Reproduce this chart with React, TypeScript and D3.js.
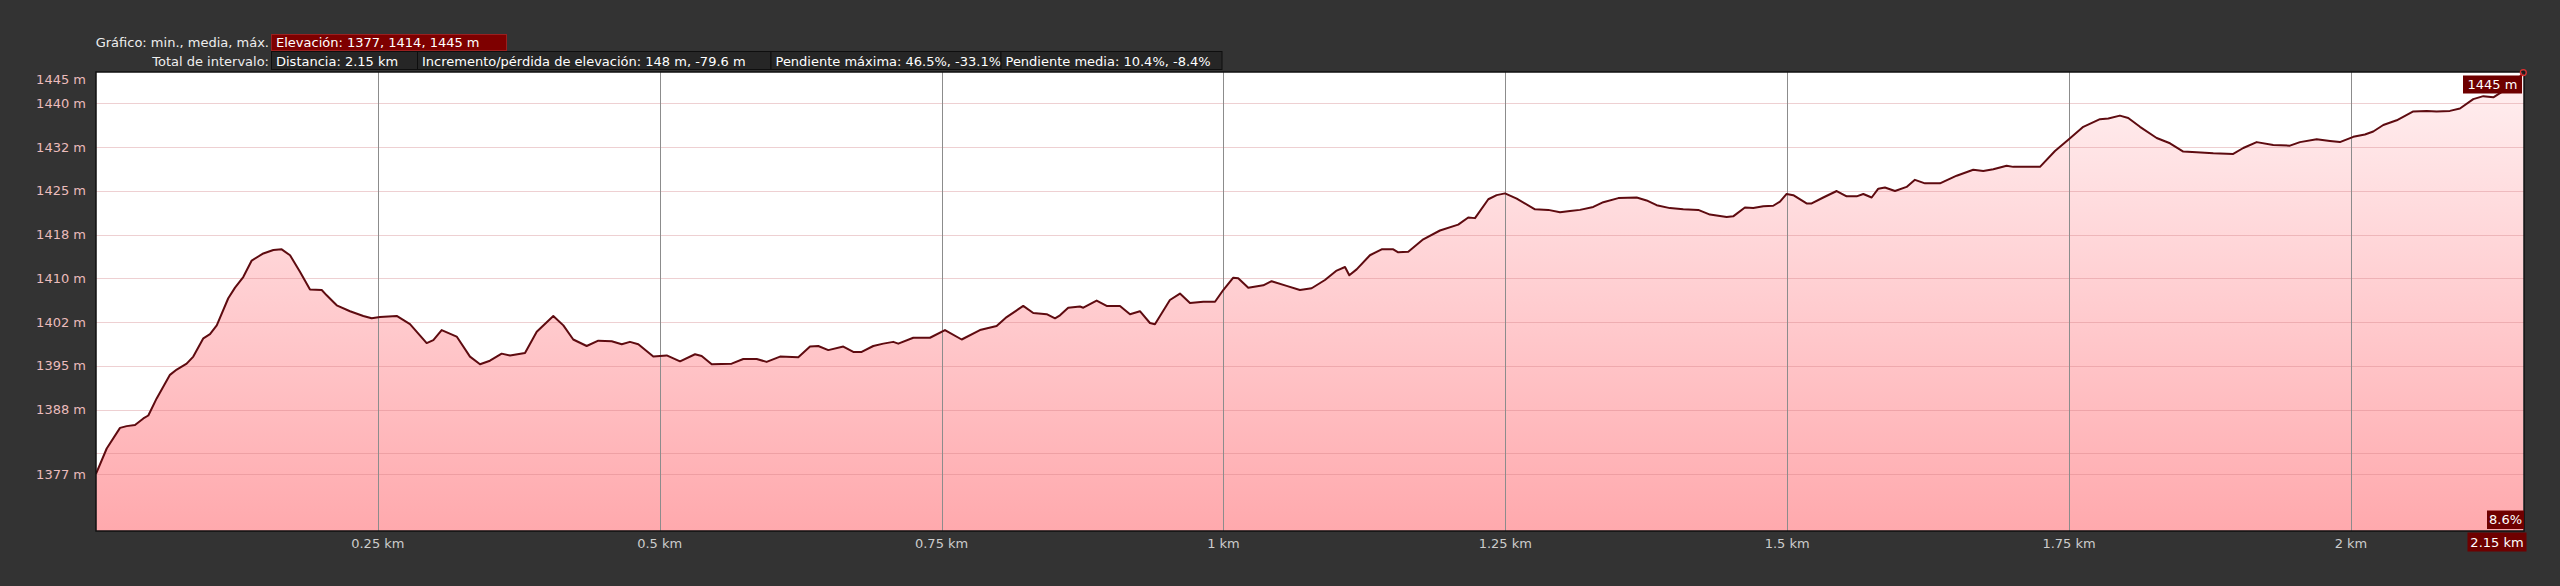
import React from "react";
import * as d3 from "d3";

// ---- Data ----
const distKm = [
  0.0, 0.0095, 0.0213, 0.0272, 0.0346, 0.042, 0.0464, 0.0538, 0.0656, 0.0716, 0.0804, 0.0863, 0.0952, 0.1011,
  0.1071, 0.1173, 0.1233, 0.1306, 0.1381, 0.1484, 0.1573, 0.1647, 0.1721, 0.1809, 0.1898, 0.2002, 0.2046,
  0.2135, 0.2253, 0.2371, 0.2445, 0.2519, 0.2667, 0.2785, 0.2933, 0.2992, 0.3066, 0.3199, 0.3317, 0.3406,
  0.3494, 0.3598, 0.3672, 0.3805, 0.3909, 0.4056, 0.4145, 0.4233, 0.4352, 0.4455, 0.4574, 0.4663, 0.4736,
  0.481, 0.4943, 0.5062, 0.518, 0.5313, 0.5372, 0.5461, 0.5638, 0.5741, 0.586, 0.5948, 0.6067, 0.6229,
  0.6333, 0.6406, 0.6495, 0.6628, 0.6717, 0.6791, 0.6894, 0.6983, 0.7071, 0.7116, 0.7249, 0.7397, 0.753,
  0.7678, 0.784, 0.7988, 0.8077, 0.8224, 0.8313, 0.8432, 0.8506, 0.855, 0.8623, 0.8727, 0.8757, 0.8875,
  0.8964, 0.9082, 0.9171, 0.9259, 0.9348, 0.9392, 0.9525, 0.9614, 0.9703, 0.9821, 0.9925, 0.9998, 1.0087,
  1.0131, 1.022, 1.0353, 1.0427, 1.056, 1.0678, 1.0782, 1.09, 1.1004, 1.1078, 1.1116, 1.1181, 1.1299,
  1.1403, 1.1506, 1.155, 1.1639, 1.1772, 1.192, 1.2082, 1.2171, 1.2231, 1.2349, 1.2423, 1.2497, 1.2601,
  1.2763, 1.2881, 1.2985, 1.3074, 1.3162, 1.328, 1.3369, 1.3502, 1.3665, 1.3753, 1.3842, 1.396, 1.4078,
  1.4211, 1.4315, 1.4463, 1.4521, 1.4625, 1.4699, 1.4788, 1.4876, 1.4936, 1.4995, 1.5054, 1.5172, 1.5217,
  1.532, 1.5439, 1.5527, 1.5616, 1.5675, 1.5749, 1.5808, 1.5867, 1.5956, 1.6059, 1.6133, 1.6222, 1.6355,
  1.6503, 1.665, 1.6739, 1.6828, 1.6946, 1.7005, 1.7242, 1.7375, 1.7493, 1.7626, 1.7774, 1.7848, 1.7951,
  1.8025, 1.8129, 1.8277, 1.8395, 1.8513, 1.8631, 1.8779, 1.8956, 1.9045, 1.9164, 1.9311, 1.9459, 1.9548,
  1.9696, 1.9814, 1.9902, 2.0021, 2.0124, 2.0198, 2.0287, 2.0406, 2.0553, 2.0672, 2.076, 2.0878, 2.0967,
  2.1085, 2.1174, 2.1263, 2.1322, 2.1455, 2.1529,
];
const elevM = [
  1377.1, 1381.4, 1384.9, 1385.2, 1385.4, 1386.5, 1387.0, 1389.9, 1393.9, 1394.8, 1395.8, 1397.0, 1400.1, 1400.8,
  1402.3, 1406.9, 1408.7, 1410.5, 1413.3, 1414.5, 1415.1, 1415.2, 1414.2, 1411.4, 1408.4, 1408.3, 1407.4,
  1405.7, 1404.7, 1403.9, 1403.5, 1403.7, 1403.9, 1402.5, 1399.3, 1399.8, 1401.5, 1400.4, 1397.0, 1395.7,
  1396.3, 1397.5, 1397.2, 1397.6, 1401.2, 1403.9, 1402.3, 1399.9, 1398.8, 1399.7, 1399.6, 1399.1, 1399.5,
  1399.1, 1397.0, 1397.2, 1396.2, 1397.4, 1397.1, 1395.7, 1395.8, 1396.6, 1396.6, 1396.1, 1397.0, 1396.9,
  1398.7, 1398.8, 1398.1, 1398.7, 1397.8, 1397.8, 1398.8, 1399.2, 1399.5, 1399.2, 1400.2, 1400.2, 1401.5,
  1399.9, 1401.5, 1402.2, 1403.7, 1405.6, 1404.4, 1404.2, 1403.5, 1404.0, 1405.3, 1405.5, 1405.3, 1406.5,
  1405.6, 1405.6, 1404.2, 1404.7, 1402.7, 1402.5, 1406.6, 1407.7, 1406.1, 1406.3, 1406.3, 1408.3, 1410.4,
  1410.3, 1408.7, 1409.1, 1409.8, 1409.0, 1408.3, 1408.6, 1410.0, 1411.6, 1412.2, 1410.8, 1411.8, 1414.2,
  1415.2, 1415.2, 1414.7, 1414.8, 1416.9, 1418.4, 1419.4, 1420.6, 1420.5, 1423.7, 1424.4, 1424.7, 1423.8,
  1422.0, 1421.9, 1421.5, 1421.7, 1421.9, 1422.4, 1423.2, 1423.9, 1424.0, 1423.5, 1422.7, 1422.2, 1422.0,
  1421.9, 1421.1, 1420.7, 1420.8, 1422.3, 1422.2, 1422.5, 1422.6, 1423.3, 1424.6, 1424.4, 1423.0, 1423.0,
  1424.0, 1425.1, 1424.2, 1424.2, 1424.6, 1424.0, 1425.5, 1425.7, 1425.1, 1425.8, 1427.0, 1426.4, 1426.4,
  1427.7, 1428.7, 1428.5, 1428.8, 1429.4, 1429.2, 1429.2, 1431.9, 1433.8, 1436.0, 1437.3, 1437.4, 1437.9,
  1437.5, 1436.0, 1434.1, 1433.2, 1431.8, 1431.7, 1431.5, 1431.4, 1432.4, 1433.4, 1432.9, 1432.8, 1433.4,
  1433.9, 1433.6, 1433.4, 1434.3, 1434.7, 1435.2, 1436.3, 1437.1, 1438.6, 1438.7, 1438.6, 1438.7, 1439.1,
  1440.7, 1441.2, 1441.0, 1441.7, 1443.5, 1445.2,
];

const xTicks = [0.25, 0.5, 0.75, 1, 1.25, 1.5, 1.75, 2];
const xTickLabels = ["0.25 km", "0.5 km", "0.75 km", "1 km", "1.25 km", "1.5 km", "1.75 km", "2 km"];
const yTicks = [1440, 1432.57, 1425.14, 1417.71, 1410.29, 1402.86, 1395.43, 1388, 1380.57];
const yTickLabels = ["1440 m", "1432 m", "1425 m", "1418 m", "1410 m", "1402 m", "1395 m", "1388 m", ""];
const yMinValue = 1377;
const yMaxValue = 1445;
const yMinLabel = "1377 m";
const yMaxLabel = "1445 m";
const totalDistance = 2.1535;
const distanceLabel = "2.15 km";
const gradeLabel = "8.6%";

const headerRow1Label = "Gráfico: min., media, máx.";
const headerRow1Items = ["Elevación: 1377, 1414, 1445 m"];
const headerRow2Label = "Total de intervalo:";
const headerRow2Items = [
  "Distancia: 2.15 km",
  "Incremento/pérdida de elevación: 148 m, -79.6 m",
  "Pendiente máxima: 46.5%, -33.1%",
  "Pendiente media: 10.4%, -8.4%",
];

// ---- Layout ----
const W = 2560;
const H = 586;
const L = 96;
const R = 2524;
const T = 72;
const B = 531;
const FONT = "'DejaVu Sans', sans-serif";

const row1Boxes = [[271.5, 506.5]];
const row2Boxes = [
  [271.5, 417.5],
  [417.5, 771],
  [771, 1001],
  [1001, 1222],
];

export default function App() {
  const x = d3.scaleLinear().domain([0, totalDistance]).range([L, R]);
  const y = d3.scaleLinear().domain([1367.4, 1445.3]).range([B, T]);
  const pts: [number, number][] = distKm.map((d, i) => [d, elevM[i]]);
  const line = d3
    .line<[number, number]>()
    .x((d) => x(d[0]))
    .y((d) => y(d[1]));
  const area = d3
    .area<[number, number]>()
    .x((d) => x(d[0]))
    .y0(B)
    .y1((d) => y(d[1]));
  const last = pts[pts.length - 1];

  return (
    <svg
      width={W}
      height={H}
      style={{ position: "absolute", left: 0, top: 0, background: "#333333" }}
      fontFamily={FONT}
    >
      <defs>
        <linearGradient id="fillGrad" gradientUnits="userSpaceOnUse" x1={0} y1={T} x2={0} y2={B}>
          <stop offset="0" stopColor="#fff0f1" />
          <stop offset="0.5" stopColor="#ffcdd0" />
          <stop offset="1" stopColor="#ffa9ad" />
        </linearGradient>
        <clipPath id="plotClip">
          <rect x={L} y={T} width={R - L} height={B - T} />
        </clipPath>
      </defs>
      <rect x={0} y={0} width={W} height={H} fill="#333333" />

      {/* Header */}
      <text x={269} y={46.5} fill="#eeeeee" fontSize={13} textAnchor="end">
        {headerRow1Label}
      </text>
      {headerRow1Items.map((t, i) => (
        <g key={"h1" + i}>
          <rect
            x={row1Boxes[i][0]}
            y={34.5}
            width={row1Boxes[i][1] - row1Boxes[i][0]}
            height={16}
            fill="#7e0000"
            stroke="#9a2020"
            strokeWidth={1}
          />
          <text x={row1Boxes[i][0] + 4.5} y={46.5} fill="#ffffff" fontSize={13}>
            {t}
          </text>
        </g>
      ))}
      <text x={269} y={65.5} fill="#eeeeee" fontSize={13} textAnchor="end">
        {headerRow2Label}
      </text>
      {headerRow2Items.map((t, i) => (
        <g key={"h2" + i}>
          <rect
            x={row2Boxes[i][0]}
            y={51.5}
            width={row2Boxes[i][1] - row2Boxes[i][0]}
            height={18}
            fill="#262626"
            stroke="#0e0e0e"
            strokeWidth={1}
          />
          <text x={row2Boxes[i][0] + 4.5} y={65.5} fill="#ffffff" fontSize={13}>
            {t}
          </text>
        </g>
      ))}

      {/* Plot */}
      <rect x={L} y={T} width={R - L} height={B - T} fill="#ffffff" />
      <path d={area(pts) || ""} fill="url(#fillGrad)" clipPath="url(#plotClip)" />
      {yTicks.map((v, i) => (
        <line
          key={"gy" + i}
          x1={L}
          x2={R}
          y1={Math.round(y(v)) + 0.5}
          y2={Math.round(y(v)) + 0.5}
          stroke="rgb(205,120,125)"
          strokeOpacity={0.35}
          strokeWidth={1}
        />
      ))}
      <line
        x1={L}
        x2={R}
        y1={Math.round(y(yMinValue)) + 0.5}
        y2={Math.round(y(yMinValue)) + 0.5}
        stroke="rgb(205,120,125)"
        strokeOpacity={0.35}
        strokeWidth={1}
      />
      {xTicks.map((v, i) => (
        <line
          key={"gx" + i}
          x1={Math.round(x(v)) + 0.5}
          x2={Math.round(x(v)) + 0.5}
          y1={T}
          y2={B}
          stroke="#8c8c8c"
          strokeWidth={1}
        />
      ))}
      <path
        d={line(pts) || ""}
        fill="none"
        stroke="#5e0b10"
        strokeWidth={2}
        strokeLinejoin="round"
        clipPath="url(#plotClip)"
      />
      <rect x={L} y={T} width={R - L} height={B - T} fill="none" stroke="#111111" strokeWidth={1.5} />

      {/* Y labels */}
      {yTicks.map((v, i) =>
        yTickLabels[i] ? (
          <text
            key={"ly" + i}
            x={86}
            y={y(v) + 4.5}
            fill="#ebbcbc"
            fontSize={13}
            textAnchor="end"
          >
            {yTickLabels[i]}
          </text>
        ) : null
      )}
      <text x={86} y={y(yMinValue) + 4.5} fill="#ebbcbc" fontSize={13} textAnchor="end">
        {yMinLabel}
      </text>
      <text x={86} y={y(yMaxValue) + 10} fill="#ebbcbc" fontSize={13} textAnchor="end">
        {yMaxLabel}
      </text>

      {/* X labels */}
      {xTicks.map((v, i) => (
        <text key={"lx" + i} x={x(v)} y={548} fill="#cccccc" fontSize={13} textAnchor="middle">
          {xTickLabels[i]}
        </text>
      ))}

      {/* Right-end annotations */}
      <circle cx={x(last[0])} cy={y(last[1])} r={3} fill="none" stroke="#e03030" strokeWidth={1.2} />
      <rect x={2463} y={75.5} width={59} height={18} fill="#6e0000" />
      <text x={2492.5} y={89} fill="#ffffff" fontSize={13} textAnchor="middle">
        {yMaxLabel}
      </text>
      <rect x={2487} y={510.5} width={37} height={18.5} fill="#6e0000" />
      <text x={2505.5} y={524} fill="#ffffff" fontSize={13} textAnchor="middle">
        {gradeLabel}
      </text>
      <rect x={2467.5} y={532.5} width={59} height={19} fill="#6e0000" />
      <text x={2497} y={546.5} fill="#ffffff" fontSize={13} textAnchor="middle">
        {distanceLabel}
      </text>
    </svg>
  );
}
